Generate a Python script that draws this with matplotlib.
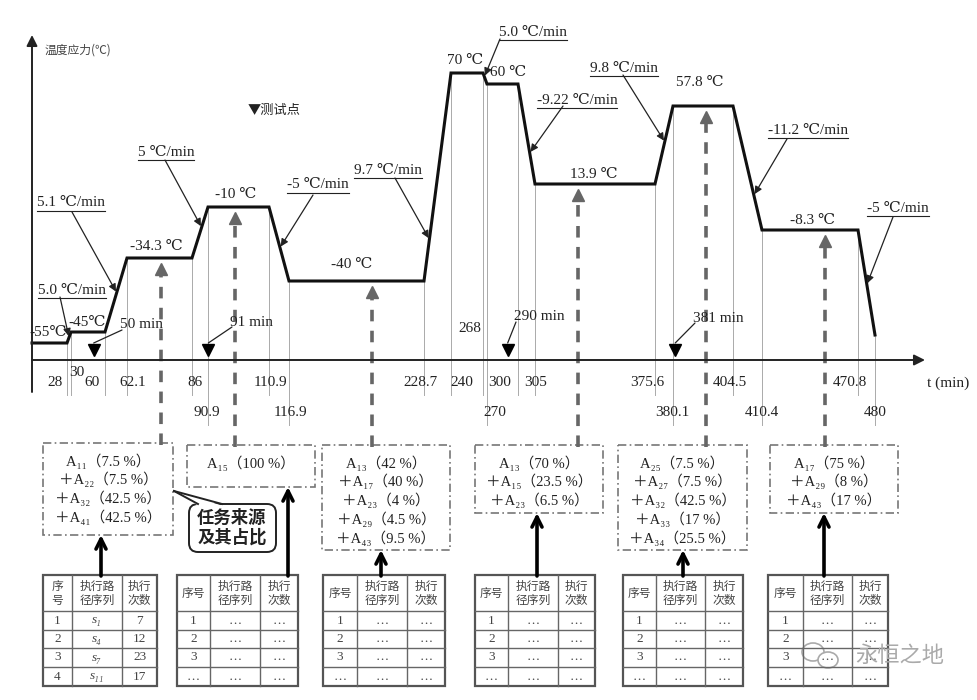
import numpy as np
import matplotlib.pyplot as plt
from matplotlib.patches import Rectangle, FancyBboxPatch, Polygon, Ellipse
from matplotlib.transforms import offset_copy

plt.rcParams['font.family'] = ['Liberation Serif', 'DejaVu Serif', 'Noto Sans CJK SC']
CJK = ['Noto Sans CJK SC', 'DejaVu Sans']
INK = '#222222'

# ---- data: temperature stress profile (min, degC) ----
TIME = [0, 28, 30, 60, 62.1, 86, 90.9, 110.9, 116.9, 228.7, 240, 268, 270,
        300, 305, 375.6, 380.1, 404.5, 410.4, 470.8, 480]
TEMP = [-55, -55, -45, -45, -34.3, -34.3, -10, -10, -40, -40, 70, 70, 60,
        60, 13.9, 13.9, 57.8, 57.8, -8.3, -8.3, -54.3]
PLATEAU_TXT = ["-55℃", "-45℃", "-34.3 ℃", "-10 ℃", "-40 ℃", "70 ℃", "60 ℃",
               "13.9 ℃", "57.8 ℃", "-8.3 ℃"]
RATE_TXT = ["5.0 ℃/min", "5.1 ℃/min", "5 ℃/min", "-5 ℃/min", "9.7 ℃/min",
            "5.0 ℃/min", "-9.22 ℃/min", "9.8 ℃/min", "-11.2 ℃/min", "-5 ℃/min"]
RATE_FROM = [28, 60, 86, 110.9, 228.7, 268, 300, 375.6, 404.5, 470.8]
TEST_T = [50, 91, 290, 381]
SRC_TEMP = [-34.3, -10, -40, 13.9, 57.8, -8.3]
SRC_LINES = [
    ["A₁₁（7.5 %）", "＋A₂₂（7.5 %）", "＋A₃₂（42.5 %）", "＋A₄₁（42.5 %）"],
    ["A₁₅（100 %）"],
    ["A₁₃（42 %）", "＋A₁₇（40 %）", "＋A₂₃（4 %）", "＋A₂₉（4.5 %）", "＋A₄₃（9.5 %）"],
    ["A₁₃（70 %）", "＋A₁₅（23.5 %）", "＋A₂₃（6.5 %）"],
    ["A₂₅（7.5 %）", "＋A₂₇（7.5 %）", "＋A₃₂（42.5 %）", "＋A₃₃（17 %）", "＋A₃₄（25.5 %）"],
    ["A₁₇（75 %）", "＋A₂₉（8 %）", "＋A₄₃（17 %）"],
]
TAB1_ROWS = [("1", "s₁", "7"), ("2", "s₄", "12"), ("3", "s₇", "23"), ("4", "s₁₁", "17")]
TAB_ROWS = [("1", "…", "…"), ("2", "…", "…"), ("3", "…", "…"), ("…", "…", "…")]

# ---- layout (pixels, schematic drawing not to scale) ----
TIME_PX = [32, 67, 71, 105, 127, 192, 208, 269, 289, 424, 451, 483, 487,
           518, 535, 655, 673, 733, 762, 858, 875]
LEVEL_Y = {-55: 343, -45: 332, -34.3: 258, -10: 207, -40: 281, 70: 73, 60: 84,
           13.9: 184, 57.8: 106, -8.3: 230, -54.3: 335}
TICK_ROW = [1, 3, 1, 1, 1, 2, 1, 2, 1, 1, 0, 2, 1, 1, 1, 2, 1, 2, 1, 2]
TICK_DX = [-12, 6, -13, 6, 3, -1, 1, 1, -4, 11, -13, 8, -18, 1, -8, -1, -3, 0, -8, 0]
ROW_Y = {0: 328, 1: 382, 2: 413, 3: 372}
PLATEAU_XY = [(48, 333), (87, 323), (156, 247), (236, 195), (352, 265), (465, 61),
              (508, 73), (594, 174), (700, 83), (812, 220)]
RATE_XY = [(72, 290), (71, 203), (166, 152), (318, 185), (388, 170), (533, 32),
           (577, 100), (624, 68), (808, 130), (898, 208)]
RATE_TAIL = [(60, 297), (72, 212), (165, 160), (313, 195), (395, 178), (500, 39),
             (563, 106), (623, 75), (787, 139), (893, 217)]
RATE_FRAC = [0.5, 0.53, 0.6, 0.55, 0.2, 0.35, 0.69, 0.54, 0.72, 0.52]
TEST_LBL = [(120, 325), (230, 322), (514, 317), (693, 318)]
BOX = [(43, 443, 173, 535), (187, 445, 315, 487), (322, 445, 450, 550),
       (475, 445, 603, 513), (618, 445, 747, 550), (770, 445, 898, 513)]
SRC_X = [161, 235, 372, 578, 706, 825]
SOLID_X = [101, 288, 381, 537, 683, 824]
TAB_COLS = [(43, 72, 122, 157), (177, 210, 260, 298), (323, 357, 407, 445),
            (475, 508, 558, 595), (623, 656, 705, 743), (768, 803, 852, 888)]
TAB_ROWS_Y = [575, 611, 630, 648, 667, 686]

fig = plt.figure(figsize=(9.77, 7.0), dpi=100)
fig.patch.set_facecolor('white')

# time axis: piecewise-linear schematic scale
T_ANCH = np.r_[-32, TIME, 582]
P_ANCH = np.r_[0, TIME_PX, 977]
fwd = lambda t: np.interp(t, T_ANCH, P_ANCH)
inv = lambda p: np.interp(p, P_ANCH, T_ANCH)

ax = fig.add_axes([0, 0, 1, 1])
ax.set_xscale('function', functions=(fwd, inv))
ax.set_xlim(-32, 582)
ax.set_ylim(700, 0)
ax.axis('off')

pa = fig.add_axes([0, 0, 1, 1])
pa.set_xlim(0, 977)
pa.set_ylim(700, 0)
pa.axis('off')

# axes arrows
pa.annotate('', xy=(925, 360), xytext=(32, 360),
            arrowprops=dict(arrowstyle='-|>', color=INK, lw=1.4, mutation_scale=16, shrinkA=0, shrinkB=0))
pa.annotate('', xy=(32, 35), xytext=(32, 392),
            arrowprops=dict(arrowstyle='-|>', color=INK, lw=1.4, mutation_scale=16, shrinkA=0, shrinkB=0))
pa.text(45, 50, "温度应力(℃)", family=CJK, fontsize=8.5, color='#444', va='center')
pa.text(927, 383, "t (min)", fontsize=11, color=INK, va='center')
pa.text(248, 110, "▼测试点", family=CJK, fontsize=9.5, color=INK, va='center')

# profile
ys = [LEVEL_Y[t] for t in TEMP]
for t, T, row in zip(TIME[1:], TEMP[1:], TICK_ROW):
    ax.plot([t, t], [LEVEL_Y[T], 425 if row == 2 else 395], color='#aaaaaa', lw=0.7, zorder=1)
ax.plot(TIME, ys, color='#111111', lw=2.2, zorder=3, solid_joinstyle='miter')

for t, row, dx in zip(TIME[1:], TICK_ROW, TICK_DX):
    tr = offset_copy(ax.transData, fig=fig, x=dx, y=0, units='dots')
    ax.text(t, ROW_Y[row], f"{t:g}", transform=tr, ha='center', va='center',
            fontsize=11, color=INK)

for s, (x, y) in zip(PLATEAU_TXT, PLATEAU_XY):
    pa.text(x, y, s, ha='center', va='center', fontsize=11, color=INK)

# rate labels with underline and arrow to slope
rate_texts = []
for s, (x, y), tail, t0, f in zip(RATE_TXT, RATE_XY, RATE_TAIL, RATE_FROM, RATE_FRAC):
    rate_texts.append(pa.text(x, y, s, ha='center', va='center', fontsize=11, color=INK))
    i = TIME.index(t0)
    tt = t0 + f * (TIME[i + 1] - t0)
    ty = LEVEL_Y[TEMP[i]] + f * (LEVEL_Y[TEMP[i + 1]] - LEVEL_Y[TEMP[i]])
    pa.annotate('', xy=(tt, ty), xycoords=ax.transData, xytext=tail, textcoords='data',
                arrowprops=dict(arrowstyle='-|>', color=INK, lw=0.9, mutation_scale=11,
                                shrinkA=0, shrinkB=1))

# test points
ax.plot(TEST_T, [350] * len(TEST_T), 'v', color='black', ms=8, zorder=4)
for t, (x, y) in zip(TEST_T, TEST_LBL):
    pa.text(x, y, f"{t} min", ha='left', va='center', fontsize=11, color=INK)
    pa.annotate('', xy=(t, 343), xycoords=ax.transData, xytext=(x + 2, y + 5), textcoords='data',
                arrowprops=dict(arrowstyle='-', color=INK, lw=0.9, shrinkA=0, shrinkB=0))

# task source boxes
for (x0, y0, x1, y1), lines, sx, sT, bx in zip(BOX, SRC_LINES, SRC_X, SRC_TEMP, SOLID_X):
    pa.add_patch(Rectangle((x0, y0), x1 - x0, y1 - y0, fill=False, ec='#777777', lw=1.2,
                           ls=(0, (5, 2, 1, 2))))
    for k, s in enumerate(lines):
        pa.text((x0 + x1) / 2, y0 + 18 + 18.7 * k, s, ha='center', va='center',
                fontsize=10.5, color=INK)
    tip = LEVEL_Y[sT] + 5
    pa.plot([sx, sx], [y0 + 2, tip + 10], color='#666666', lw=2.6, ls=(0, (3.2, 2.6)))
    pa.plot([sx], [tip + 6], marker='^', color='#666666', ms=9)
    pa.annotate('', xy=(bx, y1), xytext=(bx, 576),
                arrowprops=dict(arrowstyle='->', color='black', lw=2.6, mutation_scale=18,
                                shrinkA=0, shrinkB=0))

# callout
pa.add_patch(FancyBboxPatch((189, 504), 87, 48, boxstyle='round,pad=0,rounding_size=9',
                            fc='white', ec='#222222', lw=1.4, zorder=3))
pa.add_patch(Polygon([(174, 491), (198, 505.5), (222, 505.5)], closed=True, fc='white',
                     ec='none', zorder=4))
pa.plot([174, 198], [491, 504], color='#222222', lw=1.4, zorder=5)
pa.plot([174, 222], [491, 504], color='#222222', lw=1.4, zorder=5)
pa.text(232, 528, "任务来源\n及其占比", family=CJK, fontsize=12.5, fontweight='bold',
        ha='center', va='center', linespacing=1.15, color=INK, zorder=6)

# tables
for n, cols in enumerate(TAB_COLS):
    x0, x3 = cols[0], cols[-1]
    for y in TAB_ROWS_Y[1:-1]:
        pa.plot([x0, x3], [y, y], color='#666666', lw=1.0)
    for x in cols[1:-1]:
        pa.plot([x, x], [TAB_ROWS_Y[0], TAB_ROWS_Y[-1]], color='#666666', lw=1.0)
    pa.add_patch(Rectangle((x0, TAB_ROWS_Y[0]), x3 - x0, TAB_ROWS_Y[-1] - TAB_ROWS_Y[0],
                           fill=False, ec='#555555', lw=1.6))
    cx = [(cols[i] + cols[i + 1]) / 2 for i in range(3)]
    hy = (TAB_ROWS_Y[0] + TAB_ROWS_Y[1]) / 2
    head = ["序\n号" if n == 0 else "序号", "执行路\n径序列", "执行\n次数"]
    for c, s in zip(cx, head):
        pa.text(c, hy, s, family=CJK, fontsize=8.5, ha='center', va='center',
                linespacing=1.1, color='#444444')
    rows = TAB1_ROWS if n == 0 else TAB_ROWS
    for r, row in enumerate(rows):
        ry = (TAB_ROWS_Y[r + 1] + TAB_ROWS_Y[r + 2]) / 2
        for j, (c, s) in enumerate(zip(cx, row)):
            pa.text(c, ry, s, fontsize=9.5, ha='center', va='center', color='#444444',
                    fontstyle='italic' if (n == 0 and j == 1) else 'normal')

# watermark (sits over the last table, as in the source image)
pa.add_patch(Ellipse((813, 652), 22, 18, fill=False, ec='#aaaaaa', lw=1.2))
pa.add_patch(Ellipse((828, 660), 20, 16, fc='white', ec='#aaaaaa', lw=1.2))
pa.text(900, 656, "永恒之地", family=CJK, fontsize=16, color='#aaaaaa', ha='center', va='center')

# underline rate labels
fig.canvas.draw()
r = fig.canvas.get_renderer()
inv_pa = pa.transData.inverted()
for t in rate_texts:
    bb = t.get_window_extent(r)
    (xa, ya), (xb, _) = inv_pa.transform([(bb.x0, bb.y0), (bb.x1, bb.y0)])
    pa.plot([xa, xb], [ya + 1, ya + 1], color=INK, lw=0.8)

fig.savefig("out.png", dpi=100)
